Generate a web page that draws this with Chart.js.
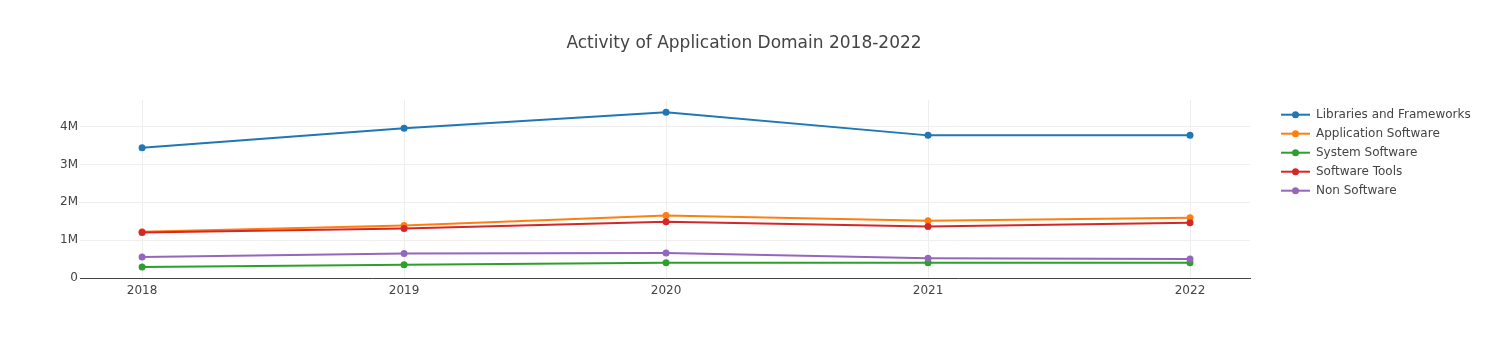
<!DOCTYPE html>
<html>
<head>
<meta charset="utf-8">
<script src="https://cdn.jsdelivr.net/npm/chart.js@4/dist/chart.umd.min.js"></script>
<style>
  html, body { margin: 0; padding: 0; background: #fff; }
  #wrap { width: 1488px; height: 360px; position: relative; }
</style>
</head>
<body>
<div id="wrap"><canvas id="c" width="1488" height="360"></canvas></div>
<script>
const titleText = 'Activity of Application Domain 2018-2022';
const years = [2018, 2019, 2020, 2021, 2022];
const seriesNames = ['Libraries and Frameworks', 'Application Software', 'System Software', 'Software Tools', 'Non Software'];
const libraries = [3.44e6, 3.96e6, 4.38e6, 3.77e6, 3.77e6];
const application = [1.22e6, 1.39e6, 1.65e6, 1.51e6, 1.59e6];
const systemSw = [0.29e6, 0.35e6, 0.40e6, 0.40e6, 0.40e6];
const tools = [1.20e6, 1.31e6, 1.49e6, 1.36e6, 1.46e6];
const nonSoftware = [0.555e6, 0.65e6, 0.66e6, 0.52e6, 0.50e6];
const yTicks = [0, 1e6, 2e6, 3e6, 4e6];
const yTickLabels = ['0', '1M', '2M', '3M', '4M'];
const colors = ['#1f77b4', '#ff7f0e', '#2ca02c', '#d62728', '#9467bd'];

const FONT = '"DejaVu Sans", Verdana, sans-serif';
const allSeries = [libraries, application, systemSw, tools, nonSoftware];

const datasets = allSeries.map((vals, i) => ({
  label: seriesNames[i],
  data: years.map((yr, j) => ({ x: yr, y: vals[j] })),
  borderColor: colors[i],
  backgroundColor: colors[i],
  borderWidth: 2,
  pointRadius: 3.5,
  pointHoverRadius: 3.5,
  pointBorderWidth: 0,
  tension: 0,
  order: allSeries.length - i
}));

const overlay = {
  id: 'overlay',
  afterDraw(chart) {
    const ctx = chart.ctx;
    ctx.save();
    ctx.fillStyle = '#444';
    ctx.font = '17px ' + FONT;
    ctx.textAlign = 'center';
    ctx.textBaseline = 'middle';
    ctx.fillText(titleText, 744, 44);
    ctx.font = '12px ' + FONT;
    ctx.textAlign = 'left';
    chart.data.datasets.forEach((ds, i) => {
      const y = 114.7 + 19 * i;
      ctx.strokeStyle = ds.borderColor;
      ctx.lineWidth = 2;
      ctx.beginPath();
      ctx.moveTo(1281, y);
      ctx.lineTo(1310, y);
      ctx.stroke();
      ctx.fillStyle = ds.borderColor;
      ctx.beginPath();
      ctx.arc(1295.5, y, 3.5, 0, Math.PI * 2);
      ctx.fill();
      ctx.fillStyle = '#444';
      ctx.fillText(ds.label, 1316, y);
    });
    ctx.restore();
  }
};

new Chart(document.getElementById('c'), {
  type: 'line',
  data: { datasets },
  plugins: [overlay],
  options: {
    responsive: false,
    animation: false,
    layout: { padding: { top: 100, right: 238, left: 0, bottom: 0 } },
    plugins: { legend: { display: false }, title: { display: false }, tooltip: { enabled: false } },
    scales: {
      x: {
        type: 'linear',
        min: 2017.763,
        max: 2022.229,
        afterFit(s) { s.height = 82; },
        afterBuildTicks(s) { s.ticks = years.map(v => ({ value: v })); },
        grid: { color: '#eee', lineWidth: 1, drawTicks: false },
        border: { display: true, color: '#444', width: 1 },
        ticks: {
          padding: 6,
          color: '#444',
          font: { family: FONT, size: 12 },
          maxRotation: 0,
          callback: v => String(v)
        }
      },
      y: {
        type: 'linear',
        min: 0,
        max: 4.705e6,
        afterFit(s) { s.width = 80; },
        afterBuildTicks(s) { s.ticks = yTicks.map(v => ({ value: v })); },
        grid: { color: '#eee', lineWidth: 1, drawTicks: false },
        border: { display: false },
        ticks: {
          padding: 2,
          color: '#444',
          font: { family: FONT, size: 12 },
          callback: v => yTickLabels[yTicks.indexOf(v)]
        }
      }
    }
  }
});
</script>
</body>
</html>
